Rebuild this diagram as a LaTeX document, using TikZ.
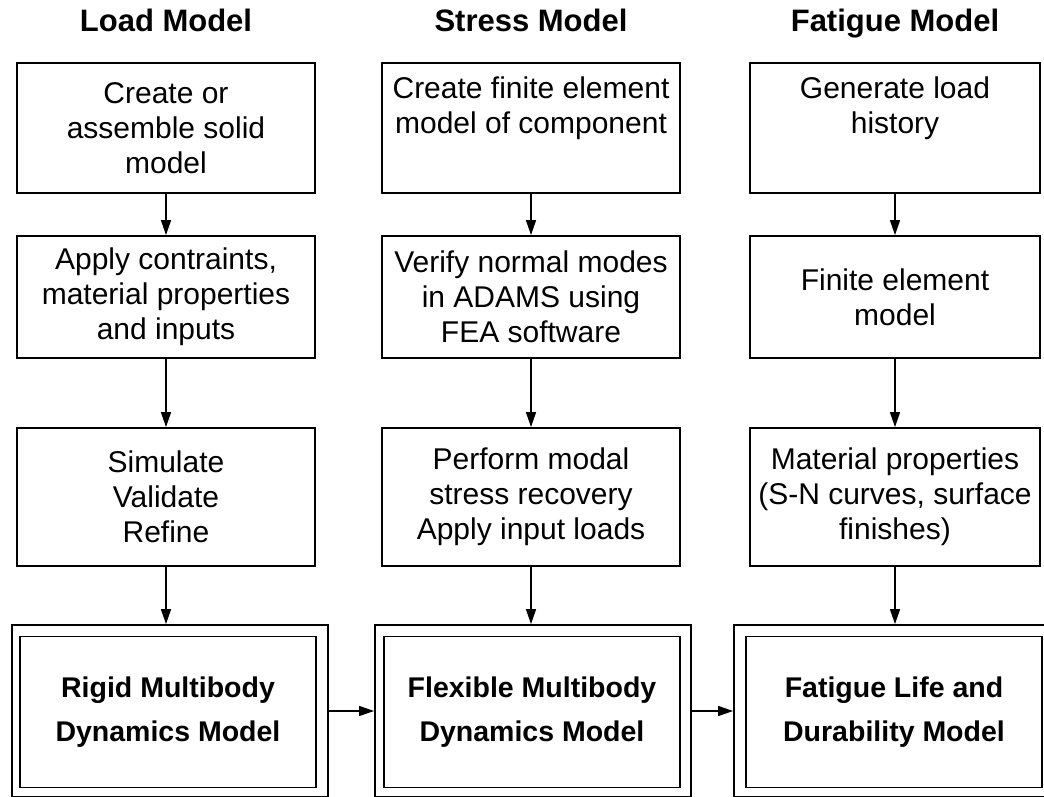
\documentclass[tikz,border=0pt]{standalone}
\usepackage{fontspec}
\setmainfont{Liberation Sans}
\usetikzlibrary{arrows.meta}

\tikzset{
	title/.style={font=\bfseries\fontsize{31}{36}\selectfont, text height=22pt, text depth=6pt},
	box/.style={draw, line width=1.8pt, minimum width=298pt, align=center, inner sep=0pt,
		font=\fontsize{30}{35}\selectfont},
	outerbox/.style={draw, line width=1.8pt, minimum width=316pt, minimum height=172pt},
	modelbox/.style={draw, line width=1.8pt, minimum width=296pt, minimum height=151pt, align=center,
		font=\bfseries\fontsize{28.5}{44}\selectfont},
	flow/.style={-{Triangle[width=10pt,length=15pt]}, line width=1.4pt}
}

\begin{document}
\begin{tikzpicture}[x=1pt, y=-1pt]
		\useasboundingbox (0, 0) rectangle (1044, 797);

		% column titles
		\node[title] (tload) at (166, 24) {Load Model};
		\node[title] (tstress) at (531, 24) {Stress Model};
		\node[title] (tfatigue) at (895, 24) {Fatigue Model};

		% first row
		\node[box, minimum height=130pt] (load1) at (166, 128) {Create or\\assemble solid\\model};
		\node[box, minimum height=130pt] (stress1) at (531, 128) {Create finite element\\model of component\\\strut};
		\node[box, minimum height=130pt, minimum width=290pt] (fatigue1) at (895, 128) {Generate load\\history\\\strut};

		% second row
		\node[box, minimum height=122pt] (load2) at (166, 297) {Apply contraints,\\material properties\\and inputs};
		\node[box, minimum height=122pt] (stress2) at (531, 297) {Verify normal modes\\in ADAMS using\\FEA software};
		\node[box, minimum height=122pt, minimum width=290pt] (fatigue2) at (895, 297) {Finite element\\model};

		% third row
		\node[box, minimum height=138pt] (load3) at (166, 497) {Simulate\\Validate\\Refine};
		\node[box, minimum height=138pt] (stress3) at (531, 497) {Perform modal\\stress recovery\\Apply input loads};
		\node[box, minimum height=138pt, minimum width=290pt] (fatigue3) at (895, 497) {Material properties\\(S-N curves, surface\\finishes)};

		% model boxes
		\node[outerbox] (load4) at (170, 711) {};
		\node[outerbox] (stress4) at (533, 711) {};
		\node[outerbox] (fatigue4) at (892, 711) {};
		\node[modelbox] (rigid) at (168, 712) {Rigid Multibody\\Dynamics Model};
		\node[modelbox] (flexible) at (532, 712) {Flexible Multibody\\Dynamics Model};
		\node[modelbox] (durability) at (894, 712) {Fatigue Life and\\Durability Model};

		\foreach \c in {load, stress, fatigue} {
			\draw[flow] (\c1) -- (\c2);
			\draw[flow] (\c2) -- (\c3);
			\draw[flow] (\c3.south) -- (\c3.south |- \c4.north);
		}

		\draw[flow] (load4) -- (stress4);
		\draw[flow] (stress4) -- (fatigue4);
	\end{tikzpicture}
\end{document}
